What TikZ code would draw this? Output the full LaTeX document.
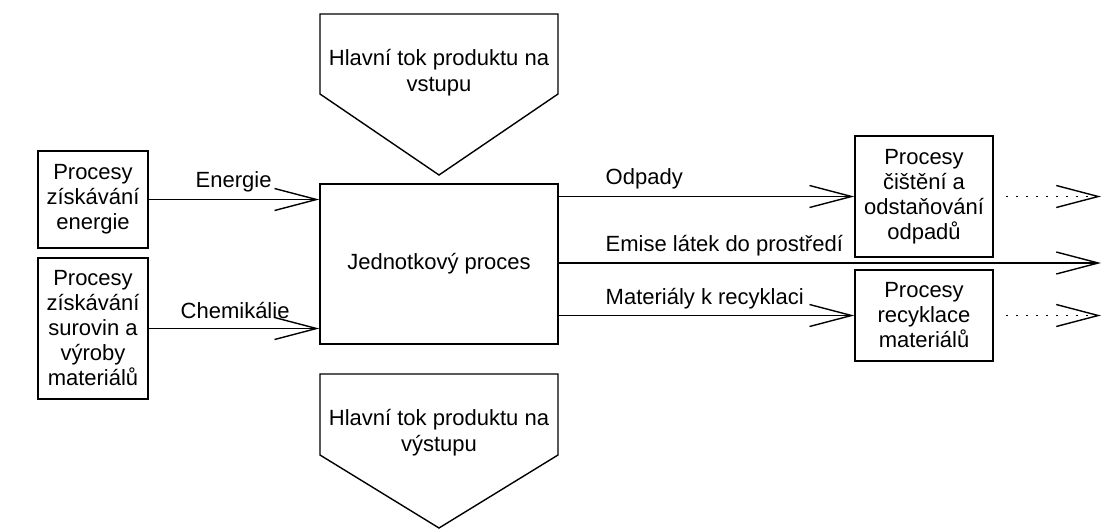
\documentclass[tikz,border=0pt]{standalone}
\usepackage{fontspec}
\setmainfont{Liberation Sans}
\usetikzlibrary{arrows.meta,calc}
\begin{document}
\begin{tikzpicture}[x=0.5pt,y=-0.5pt,
  font=\fontsize{11}{12.5}\selectfont,
  line width=0.7pt,
  box/.style={draw,align=center,inner sep=0pt},
  flow/.style={-{Straight Barb[length=21pt,width=11pt]}},
  dotflow/.style={flow,dash pattern=on 1.1pt off 3.9pt,shorten <=6pt},
  lbl/.style={anchor=west,inner sep=0pt}]
\useasboundingbox (0,0) rectangle (1101,530);

% source processes
\node[box,minimum width=55pt,minimum height=48.5pt] (en) at (93,199.5)
  {Procesy\\získávání\\energie};
\node[box,minimum width=55pt,minimum height=70.5pt] (mat) at (93,328.5)
  {Procesy\\získávání\\surovin a\\výroby\\materiálů};

% unit process
\node[box,minimum width=119pt,minimum height=80pt] (unit) at (439,264)
  {Jednotkový proces};

% downstream processes
\node[box,minimum width=69pt,minimum height=60.5pt] (waste) at (924,196.5)
  {Procesy\\čištění a\\odstaňování\\odpadů};
\node[box,minimum width=69pt,minimum height=45.5pt] (recyc) at (924,315.5)
  {Procesy\\recyklace\\materiálů};

% main product flow in / out
\draw (320,14) -- (558,14) -- (558,94) -- (439,175) -- (320,94) -- cycle;
\node[align=center,font=\fontsize{11}{13}\selectfont] (pin) at (439,73)
  {Hlavní tok produktu na\\vstupu};
\draw (320,374) -- (558,374) -- (558,455) -- (439,528) -- (320,455) -- cycle;
\node[align=center,font=\fontsize{11}{13}\selectfont] (pout) at (439,433)
  {Hlavní tok produktu na\\výstupu};

% inputs
\draw[flow] (en.east) -- (unit.west |- en.east);
\draw[flow] (mat.east) -- (unit.west |- mat.east);
\node[lbl] (lE) at (195,182) {Energie};
\node[lbl] (lC) at (180,311) {Chemikálie};

% outputs
\coordinate (emEnd) at (1101,263);
\coordinate (wEnd) at (1101,196.5);
\coordinate (rEnd) at (1101,315.5);
\draw[flow] (unit.east |- waste.west) -- (waste.west);
\draw[flow] (unit.east |- emEnd) -- (emEnd);
\draw[flow] (unit.east |- recyc.west) -- (recyc.west);
\node[lbl] (lO) at (605,179) {Odpady};
\node[lbl] (lEm) at (605,246) {Emise látek do prostředí};
\node[lbl] (lM) at (605,299) {Materiály k recyklaci};

% onward flows
\draw[dotflow] (waste.east) -- (wEnd);
\draw[dotflow] (recyc.east) -- (rEnd);
\end{tikzpicture}
\end{document}
